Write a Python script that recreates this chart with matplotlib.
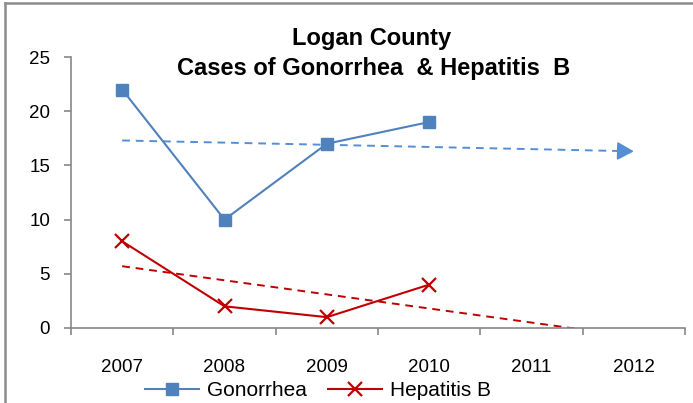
import numpy as np
import matplotlib.pyplot as plt
from matplotlib.lines import Line2D

plt.rcParams['font.family'] = ['Liberation Sans', 'DejaVu Sans']

years = ['2007', '2008', '2009', '2010', '2011', '2012']
gonorrhea = [22, 10, 17, 19]
hepatitis_b = [8, 2, 1, 4]

blue = '#4F81BD'
blue_trend = '#558ED5'
red = '#C00000'
gray = '#878787'

fig = plt.figure(figsize=(6.93, 4.03), dpi=100)
ax = fig.add_axes([71 / 693, 1 - 328 / 403, 614 / 693, 271 / 403])

x_obs = np.arange(len(gonorrhea))
x_all = np.arange(len(years))

# linear trend lines, forecast forward two periods
g_fit = np.polyfit(x_obs, gonorrhea, 1)
h_fit = np.polyfit(x_obs, hepatitis_b, 1)
x_end = x_all[-1]
x_line = np.array([0, x_end - 0.12])
ax.plot(x_line, np.polyval(g_fit, x_line), color=blue_trend, lw=1.4,
        ls=(0, (4, 3)), zorder=2)
ax.annotate('', xy=(x_end, np.polyval(g_fit, x_end)),
            xytext=(x_end - 0.16, np.polyval(g_fit, x_end - 0.16)),
            arrowprops=dict(arrowstyle='-|>,head_length=1.0,head_width=0.55',
                            color=blue_trend, lw=1.4, shrinkA=0, shrinkB=0))
h_line = np.array([0, x_end])
ax.plot(h_line, np.polyval(h_fit, h_line), color=red, lw=1.4,
        ls=(0, (4, 3)), zorder=2)

ax.plot(x_obs, gonorrhea, color=blue, lw=1.5, marker='s', ms=8,
        label='Gonorrhea', zorder=3)
ax.plot(x_obs, hepatitis_b, color=red, lw=1.5, marker='x', ms=10, mew=1.6,
        label='Hepatitis B', zorder=3)

ax.set_xlim(-0.5, 5.5)
ax.set_ylim(0, 25)
ax.set_yticks(range(0, 26, 5))
ax.set_xticks(x_all)
ax.set_xticklabels(years)
ax.set_xticks(np.arange(-0.5, 6, 1), minor=True)
ax.tick_params(axis='x', which='major', length=0, pad=22, labelsize=13.5)
ax.tick_params(axis='x', which='minor', length=5, width=1.2, color=gray)
ax.tick_params(axis='y', length=5, width=1.2, color=gray, pad=10,
               labelsize=13.5)
for side in ['top', 'right']:
    ax.spines[side].set_visible(False)
for side in ['left', 'bottom']:
    ax.spines[side].set_color(gray)
    ax.spines[side].set_linewidth(1.2)

fig.text(372 / 693, 1 - 38 / 403, 'Logan County', ha='center', va='center',
         fontsize=17, fontweight='bold')
fig.text(374 / 693, 1 - 68 / 403, 'Cases of Gonorrhea  & Hepatitis  B',
         ha='center', va='center', fontsize=17, fontweight='bold')

fig.legend(loc='center', bbox_to_anchor=(318 / 693, 1 - 391 / 403),
           ncol=2, frameon=False, fontsize=15, handlelength=2.6,
           columnspacing=1.0, handletextpad=0.4, borderaxespad=0,
           borderpad=0)

# chart-area frame (only the top and left edges fall inside the picture)
fig.add_artist(Line2D([5 / 693, 5 / 693], [0, 1 - 3 / 403],
                      transform=fig.transFigure, color='#8C8C8C', lw=1.8))
fig.add_artist(Line2D([5 / 693, 1], [1 - 3 / 403, 1 - 3 / 403],
                      transform=fig.transFigure, color='#8C8C8C', lw=1.8))

fig.savefig('out.png', dpi=100)
